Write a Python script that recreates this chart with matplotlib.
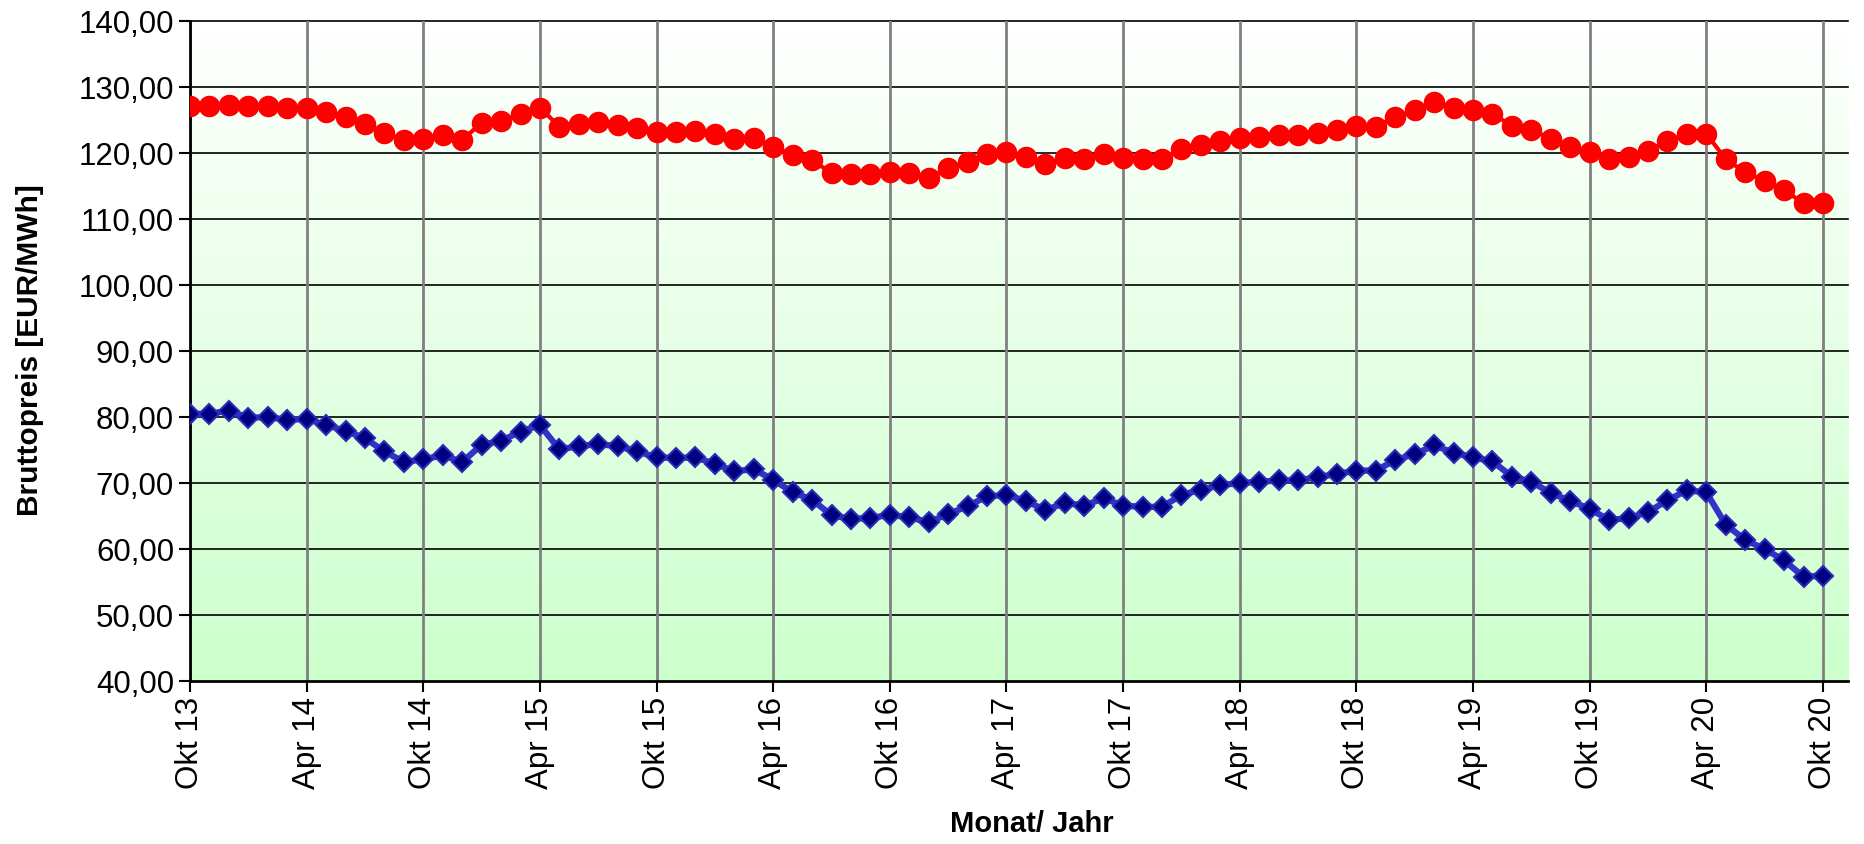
import numpy as np
import matplotlib.pyplot as plt
from matplotlib.colors import LinearSegmentedColormap

# monatliche Bruttopreise Okt 13 .. Okt 20 (85 Monate)
rot = [127.1, 127.1, 127.3, 127.1, 127.1, 126.9, 126.9, 126.2, 125.4, 124.4,
       123.0, 122.0, 122.2, 122.8, 122.0, 124.6, 124.9, 125.9, 126.9, 124.0,
       124.4, 124.7, 124.3, 123.8, 123.2, 123.2, 123.3, 122.9, 122.1, 122.3,
       121.0, 119.7, 118.9, 117.0, 116.8, 116.9, 117.2, 117.0, 116.2, 117.7,
       118.6, 119.8, 120.1, 119.4, 118.4, 119.3, 119.1, 119.9, 119.2, 119.1,
       119.1, 120.6, 121.3, 121.8, 122.3, 122.5, 122.8, 122.8, 123.0, 123.5,
       124.1, 124.0, 125.5, 126.5, 127.8, 126.9, 126.5, 126.0, 124.1, 123.5,
       122.2, 121.0, 120.1, 119.1, 119.4, 120.3, 121.9, 122.9, 122.9, 119.1,
       117.1, 115.8, 114.4, 112.4, 112.4]
blau = [80.5, 80.5, 81.0, 79.9, 80.0, 79.6, 79.7, 78.8, 77.9, 76.8,
        74.8, 73.2, 73.6, 74.2, 73.2, 75.8, 76.4, 77.8, 78.8, 75.1,
        75.6, 75.9, 75.6, 74.8, 73.9, 73.8, 73.9, 72.9, 71.8, 72.1,
        70.5, 68.6, 67.5, 65.1, 64.6, 64.7, 65.2, 64.8, 64.1, 65.3,
        66.5, 68.0, 68.2, 67.3, 65.9, 67.0, 66.6, 67.7, 66.6, 66.4,
        66.4, 68.2, 69.0, 69.7, 70.0, 70.2, 70.4, 70.4, 70.9, 71.4,
        71.9, 71.9, 73.5, 74.4, 75.7, 74.6, 73.9, 73.3, 71.0, 70.2,
        68.5, 67.3, 66.1, 64.4, 64.7, 65.6, 67.4, 68.9, 68.6, 63.7,
        61.4, 60.0, 58.3, 55.8, 56.0]
ticklabels = ["Okt 13", "Apr 14", "Okt 14", "Apr 15", "Okt 15", "Apr 16", "Okt 16", "Apr 17",
              "Okt 17", "Apr 18", "Okt 18", "Apr 19", "Okt 19", "Apr 20", "Okt 20"]

plt.rcParams['font.family'] = ['Liberation Sans', 'DejaVu Sans']

x = np.arange(len(rot))
fig = plt.figure(figsize=(18.65, 8.44), dpi=100)
ax = fig.add_axes([0.1019, 0.193, 0.8891, 0.782])

xmax = 85.3
# Hintergrund: Verlauf hellgruen (unten) -> weiss (oben)
cmap = LinearSegmentedColormap.from_list('bg', ['#ccffcc', '#ffffff'])
grad = np.linspace(0, 1, 256).reshape(-1, 1)
ax.imshow(grad, cmap=cmap, aspect='auto', extent=[0, xmax, 40, 140], origin='lower', zorder=0)

for v in range(50, 141, 10):
    ax.axhline(v, color='black', lw=1.2, zorder=1, clip_on=False)
for t in range(0, 85, 6):
    ax.axvline(t, color='#808080', lw=2, zorder=1)

ax.plot(x, rot, '-o', color='#ff0000', lw=3, markersize=14.5, zorder=3)
ax.plot(x, blau, '-D', color='#3333cc', lw=4.5, markersize=10,
        markerfacecolor='#000080', markeredgecolor='#2a2ab8', markeredgewidth=1.5, zorder=3)

ax.set_xlim(0, xmax)
ax.set_ylim(40, 140)
ax.set_yticks(range(40, 141, 10))
ax.set_yticklabels(["%d,00" % v for v in range(40, 141, 10)], fontsize=22.5)
ax.set_xticks(range(0, 85, 6))
ax.set_xticklabels(ticklabels, rotation=90, fontsize=22.5)
ax.tick_params(direction='out', length=8, width=1.5, color='black')
for s in ['left', 'bottom']:
    ax.spines[s].set_linewidth(2)
for s in ['top', 'right']:
    ax.spines[s].set_visible(False)

fig.text(0.016, 0.585, "Bruttopreis [EUR/MWh]", fontsize=21.5, fontweight='bold',
         rotation=90, ha='center', va='center')
fig.text(0.553, 0.024, "Monat/ Jahr", fontsize=21, fontweight='bold', ha='center', va='center')

fig.savefig("out.png", dpi=100)
